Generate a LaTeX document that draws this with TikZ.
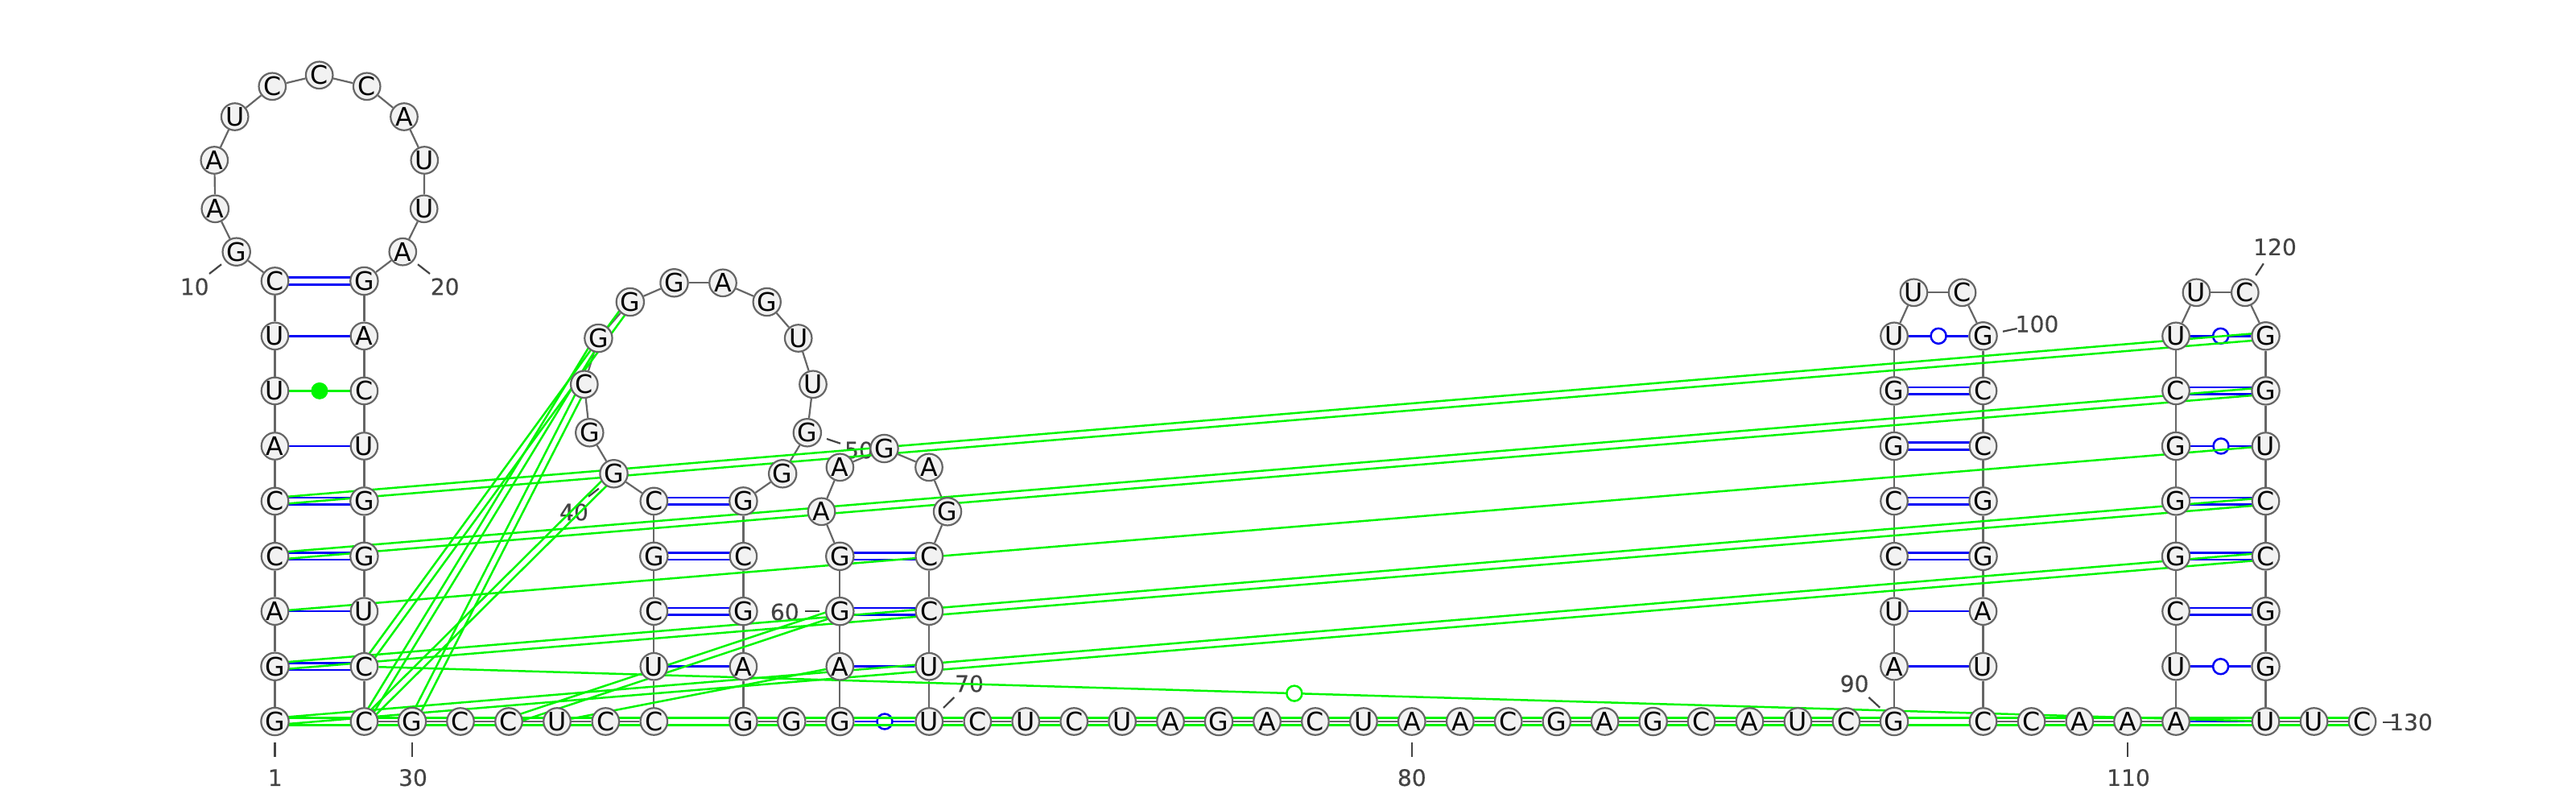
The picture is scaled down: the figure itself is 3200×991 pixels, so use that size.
\documentclass[tikz,border=0pt]{standalone}
\usepackage{fontspec}
\setmainfont{DejaVu Sans}
\newfontfamily\numfont[FakeBold=0.25]{DejaVu Sans}
\usetikzlibrary{calc,backgrounds}

\definecolor{basegray}{HTML}{666666}
\definecolor{basefill}{HTML}{F2F2F2}
\definecolor{pairblue}{HTML}{0000F5}
\definecolor{knotgreen}{HTML}{00F500}
\definecolor{numgray}{HTML}{444444}

\tikzset{
    nt/.style={circle, draw=basegray, fill=basefill, line width=0.022cm, minimum size=0.335cm, inner sep=0pt, font=\fontsize{9}{9}\selectfont},
    backbone/.style={draw=basegray, line width=0.022cm},
    wc/.style={draw=pairblue, line width=0.025cm},
    knot/.style={draw=knotgreen, line width=0.025cm},
    numtick/.style={draw=numgray, line width=0.022cm},
    numlabel/.style={text=numgray, inner sep=0pt, font=\numfont\fontsize{8}{8}\selectfont},
    gu/.style={circle, draw=pairblue, fill=white, line width=0.025cm, minimum size=0.19cm, inner sep=0pt},
    gulime/.style={circle, draw=knotgreen, fill=white, line width=0.025cm, minimum size=0.19cm, inner sep=0pt},
    dotlime/.style={circle, fill=knotgreen, minimum size=0.21cm, inner sep=0pt}
}

\newcommand{\twolines}[3]{
    \draw[#1] ($(#2)!0.043cm!90:(#3)$) -- ($(#3)!0.043cm!-90:(#2)$);
    \draw[#1] ($(#2)!0.043cm!-90:(#3)$) -- ($(#3)!0.043cm!90:(#2)$);
}

\begin{document}
\begin{tikzpicture}[x=0.01cm, y=-0.01cm]
    \useasboundingbox (0,0) rectangle (3200,991);

    \foreach \n/\px/\py/\nb in {
        1/341.5/896/G, 2/341.5/827.7/G, 3/341.5/759.2/A, 4/341.5/690.8/C, 5/341.5/622.4/C,
        6/341.5/554/A, 7/341.5/485.4/U, 8/341.5/417.3/U, 9/341.5/349/C, 10/293.7/312.7/G,
        11/267.3/259.3/A, 12/266.3/199/A, 13/291.7/145/U, 14/338.3/107.3/C, 15/396.7/93.3/C,
        16/455.7/107.3/C, 17/502/145/A, 18/527.3/199/U, 19/526.7/259.3/U, 20/500.3/312.7/A,
        21/452.4/349/G, 22/452.4/417.3/A, 23/452.4/485.4/C, 24/452.4/554/U, 25/452.4/622.4/G,
        26/452.4/690.8/G, 27/452.4/759.2/U, 28/452.4/827.7/C, 29/452.4/896/C, 30/512/896/G,
        31/572/896/C, 32/632/896/C, 33/692/896/U, 34/752.3/896/C, 35/812.3/896/C,
        36/812.3/827.7/U, 37/812.3/759.2/C, 38/812.3/690.8/G, 39/812.3/622.4/C, 40/762.5/588.3/G,
        41/732.3/537.3/G, 42/725.8/477.3/C, 43/743.4/420/G, 44/782.8/375/G, 45/837.5/351.3/G,
        46/898/351.3/A, 47/952.7/375/G, 48/991.7/420/U, 49/1010/477.3/U, 50/1002.8/537.3/G,
        51/972.2/588.3/G, 52/923.4/622.4/G, 53/923.4/690.8/C, 54/923.4/759.2/G, 55/923.4/827.7/A,
        56/923.4/896/G, 57/983.3/896/G, 58/1043.3/896/G, 59/1043.3/827.7/A, 60/1043.3/759.2/G,
        61/1043.3/690.8/G, 62/1020.5/635.3/A, 63/1043.4/580.3/A, 64/1098.5/557/G, 65/1154/580.3/A,
        66/1177/635.3/G, 67/1154.3/690.8/C, 68/1154.3/759.2/C, 69/1154.3/827.7/U, 70/1154.3/896/U,
        71/1214.3/896/C, 72/1274.2/896/U, 73/1334.2/896/C, 74/1394.1/896/U, 75/1454/896/A,
        76/1514/896/G, 77/1574/896/A, 78/1633.9/896/C, 79/1693.9/896/U, 80/1753.8/896/A,
        81/1813.8/896/A, 82/1873.7/896/C, 83/1933.7/896/G, 84/1993.6/896/A, 85/2053.6/896/G,
        86/2113.5/896/C, 87/2173.5/896/A, 88/2233.4/896/U, 89/2293.4/896/C, 90/2353/896/G,
        91/2353/827.7/A, 92/2353/759.2/U, 93/2353/690.8/C, 94/2353/622.4/C, 95/2353/554/G,
        96/2353/485.4/G, 97/2353/417.3/U, 98/2377.4/363.3/U, 99/2437.5/363.3/C, 100/2463.5/417.3/G,
        101/2463.5/485.4/C, 102/2463.5/554/C, 103/2463.5/622.4/G, 104/2463.5/690.8/G, 105/2463.5/759.2/A,
        106/2463.5/827.7/U, 107/2463.5/896/C, 108/2523.5/896/C, 109/2583.3/896/A, 110/2643/896/A,
        111/2703/896/A, 112/2703/827.7/U, 113/2703/759.2/C, 114/2703/690.8/G, 115/2703/622.4/G,
        116/2703/554/G, 117/2703/485.4/C, 118/2703/417.3/U, 119/2728.4/363.3/U, 120/2788.8/363.3/C,
        121/2814.5/417.3/G, 122/2814.5/485.4/G, 123/2814.5/554/U, 124/2814.5/622.4/C, 125/2814.5/690.8/C,
        126/2814.5/759.2/G, 127/2814.5/827.7/G, 128/2814.5/896/U, 129/2874.5/896/U, 130/2934.5/896/C}
        \node[nt] (n\n) at (\px,\py) {\nb};

    \begin{scope}[on background layer]
        \foreach \v/\xa/\ya/\xb/\yb/\xt/\yt in {
            1/341.5/921.7/341.5/940/341.8/965.7, 10/275/328.3/260/340/241.7/356,
            20/519/328.3/534/340/552.7/356, 30/512/921.7/512/940/513/965.7,
            40/743.8/606.7/731/616.7/713/636, 50/1027/545/1044/550.7/1067/559,
            60/1018.4/759.3/1000.4/759.3/974.8/760, 70/1172/879/1185.3/866/1204/849,
            80/1753.8/921.7/1753.8/940/1753.8/965.7, 90/2335.2/878.7/2321.4/866/2303.6/849,
            100/2488/411.7/2505.6/408/2530.5/402.3, 110/2643/921.7/2643/940/2644/965.7,
            120/2802.2/342/2811.8/327.3/2826/306.7, 130/2960/896.7/2977/896.7/2995/896.7} {
            \coordinate (ta\v) at (\xa,\ya);
            \coordinate (tb\v) at (\xb,\yb);
            \node[numlabel] (num\v) at (\xt,\yt) {\v};
            \draw[numtick] (ta\v) -- (tb\v);
        }

        \foreach \a [evaluate=\a as \b using int(\a+1)] in {1,...,129}
            \draw[backbone] (n\a) -- (n\b);

        \foreach \a/\b in {9/21, 5/25, 4/26, 2/28, 39/52, 38/53, 37/54, 61/67, 60/68,
            96/101, 95/102, 94/103, 93/104, 117/122, 115/124, 114/125, 113/126}
            {\twolines{wc}{n\a}{n\b}}

        \foreach \a/\b in {8/22, 6/24, 3/27, 36/55, 59/69, 92/105, 91/106, 111/128}
            \draw[wc] (n\a) -- (n\b);

        \draw[knot] (n7) -- (n23) node[dotlime, midway] (dot7) {};
        \foreach \a/\b in {58/70, 97/100, 118/121, 116/123, 112/127}
            \draw[wc] (n\a) -- (n\b) node[gu, midway] (gu\a) {};

        \foreach \a/\b in {5/121, 4/122, 2/124, 1/125, 1/130, 28/44, 29/43, 30/42, 29/40, 32/60}
            {\twolines{knot}{n\a}{n\b}}

        \foreach \a/\b in {3/123, 33/59}
            \draw[knot] (n\a) -- (n\b);
        \draw[knot] (n28) -- (n128) node[gulime, pos=0.489] (gu28) {};
    \end{scope}
\end{tikzpicture}
\end{document}
